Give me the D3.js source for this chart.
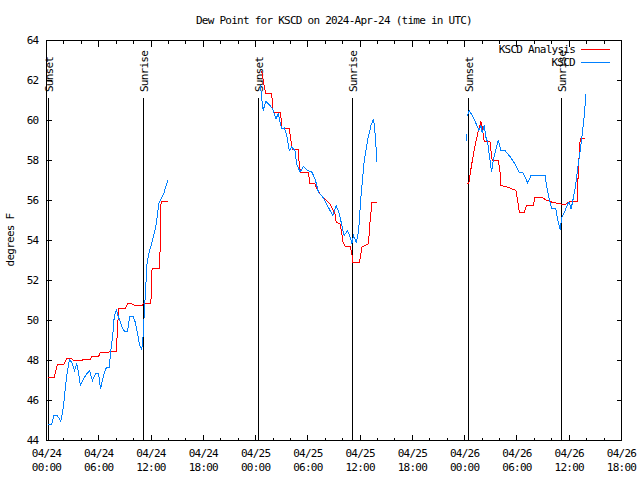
<!DOCTYPE html>
<html><head><meta charset="utf-8">
<script src="https://cdn.jsdelivr.net/npm/d3@7"></script>
<style>
body{margin:0;background:#fff}
svg{shape-rendering:crispEdges}
text{font-family:"DejaVu Sans Mono","Liberation Mono",monospace;font-size:11px;letter-spacing:-0.75px;fill:#000}
</style>
</head><body><svg id="c" width="640" height="480"></svg>
<script>
// ---------- data ----------
const title = "Dew Point for KSCD on 2024-Apr-24 (time in UTC)";
const yTitle = "degrees F";
const seriesNames = ["KSCD Analysis", "KSCD"];
const seriesColors = ["#ff0000", "#0080ff"];
// hours since 2024-04-24 00:00 UTC (null = gap)
const analysisHours = [
 0.21,0.86,1.24,1.94,2.33,2.9,3.09,4.05,4.17,5.01,5.21,5.97,6.16,7.12,7.31,8.0,8.15,8.27,9.04,9.31,9.81,10.19,10.96,11.15,11.98,12.05,12.12,12.99,13.15,13.96,
 null,
 24.69,24.95,25.18,25.84,26.02,26.88,26.99,27.87,28.03,28.21,28.9,29.02,29.18,30.05,30.25,30.83,31.02,31.4,31.78,32.55,33.13,33.24,33.7,33.9,34.02,34.28,34.86,35.05,35.17,35.93,36.2,36.96,37.08,37.36,37.93,
 null,
 48.21,48.47,48.78,49.16,49.48,49.86,50.01,50.24,50.89,51.16,51.85,52.04,52.16,52.93,53.89,54.08,54.27,54.84,55.12,55.88,56.08,56.85,57.31,58.0,58.96,59.53,59.91,60.91,61.06,61.26,61.84
];
const analysisValues = [
 47.13,47.13,47.78,47.78,48.08,48.08,48.0,48.0,48.05,48.05,48.2,48.2,48.38,48.42,48.45,48.45,49.5,50.58,50.58,50.83,50.83,50.75,50.75,50.87,50.87,51.67,52.62,52.62,55.95,55.95,
 null,
 62.47,61.83,61.33,61.33,60.42,60.42,59.58,59.58,59.08,58.55,58.55,57.75,57.42,57.42,56.83,56.83,56.58,56.33,56.17,55.83,55.33,54.92,54.83,54.33,53.92,53.7,53.7,53.33,52.92,52.92,53.67,53.83,54.67,55.92,55.92,
 null,
 56.87,56.87,57.75,58.67,59.33,59.95,59.67,58.97,58.97,58.0,58.0,57.5,56.75,56.67,56.5,56.0,55.42,55.42,55.75,55.75,56.17,56.17,56.03,55.92,55.83,55.8,55.92,55.97,57.67,59.08,59.08
];
const obsHours = [
 0.21,0.6,0.86,1.24,1.64,1.94,2.13,2.33,2.63,2.9,3.2,3.48,3.66,3.89,4.24,4.63,4.93,5.28,5.67,5.97,6.2,6.54,6.85,7.2,7.39,7.62,7.77,8.0,8.27,8.66,8.96,9.31,9.54,9.93,10.19,10.46,10.65,10.88,11.03,11.15,11.35,11.54,11.73,12.0,12.3,12.61,12.88,13.15,13.45,13.73,13.96,
 null,
 24.57,24.69,24.87,25.18,25.64,25.95,26.33,26.6,26.99,27.29,27.57,27.87,28.14,28.52,28.72,29.1,29.48,29.94,30.45,30.83,31.21,31.71,32.24,32.86,33.24,33.62,33.9,34.16,34.55,34.86,35.05,35.24,35.55,35.81,36.12,36.47,36.85,37.24,37.54,37.74,37.93,
 null,
 48.21,48.22,
 null,
 48.32,48.51,48.97,49.36,49.63,49.86,50.01,50.24,50.43,50.63,50.81,51.09,51.27,51.55,51.85,52.16,52.62,53.2,53.77,54.23,54.73,55.23,55.61,57.23,57.42,57.69,58.0,58.46,58.69,58.96,59.15,59.53,59.84,59.99,60.22,60.49,60.76,60.99,61.26,61.52,61.75,61.91
];
const obsValues = [
 44.8,44.8,45.25,45.25,44.97,45.67,46.5,47.25,48.03,47.9,47.5,47.83,47.42,46.75,47.08,47.33,47.5,47.0,47.37,47.37,46.58,47.25,47.62,47.67,48.5,49.33,50.17,50.53,50.17,49.67,49.45,49.45,50.2,50.2,49.92,49.33,48.83,48.58,48.75,49.75,51.33,52.83,53.33,53.75,54.25,54.83,55.83,56.08,56.33,56.75,57.03,
 null,
 61.75,61.17,60.5,60.97,60.75,60.58,60.08,60.33,59.58,59.63,59.25,58.5,58.67,58.5,57.83,57.42,57.7,57.5,57.42,57.08,56.42,56.17,55.75,55.25,55.75,55.33,54.75,54.25,54.5,54.17,53.83,54.25,53.92,54.42,56.33,58.0,59.0,59.75,60.08,59.25,57.92,
 null,
 59.3,58.95,
 null,
 60.25,60.5,60.17,59.8,59.5,59.75,59.37,59.75,59.17,58.92,58.33,57.42,58.0,58.5,59.03,58.5,58.5,58.2,57.83,57.42,57.37,56.87,57.25,57.25,56.67,56.08,55.58,55.58,55.0,54.53,55.17,55.5,55.83,55.92,55.58,56.17,56.83,57.67,58.5,59.42,60.33,61.33
];
const sunsetHours = [0.17, 24.31, 48.35];
const sunriseHours = [11.11, 35.10, 59.09];
const xMajorTickHours = [0,6,12,18,24,30,36,42,48,54,60,66];
const xMinorTickHours = d3.range(0, 67, 2);
const yTicks = [44,46,48,50,52,54,56,58,60,62,64];

// ---------- chart ----------
const svg = d3.select("#c");
const startMs = Date.UTC(2024, 3, 24, 0, 0);
const toDate = h => new Date(startMs + h * 3600e3);
const L = 46.5, R = 621.5, T = 40.5, B = 440.5;
const x = d3.scaleUtc().domain([toDate(0), toDate(66)]).range([L, R]);
const y = d3.scaleLinear().domain([44, 64]).range([B, T]);

// title
svg.append("text").attr("x", (L + R) / 2).attr("y", 24).attr("text-anchor", "middle").text(title);
// y title
svg.append("text").attr("transform", "translate(14,240) rotate(-90)").attr("text-anchor", "middle").text(yTitle);

// sunrise / sunset lines
const sunEvents = sunsetHours.map(h => ({h, label: "Sunset"})).concat(sunriseHours.map(h => ({h, label: "Sunrise"})));
const sg = svg.append("g");
sunEvents.forEach(e => {
  const xx = Math.round(x(toDate(e.h))) + 0.5;
  sg.append("line").attr("x1", xx).attr("x2", xx).attr("y1", 98).attr("y2", B)
    .attr("stroke", "#000").attr("stroke-width", 1);
  sg.append("text").attr("transform", `translate(${xx + 4},92) rotate(-90)`).text(e.label);
});

// axes
function clean(g){ g.select(".domain").remove(); g.selectAll(".tick line").attr("stroke", "#000"); }
svg.append("g").attr("transform", `translate(0,${B})`)
  .call(d3.axisBottom(x).tickValues(xMinorTickHours.map(toDate)).tickSize(-3).tickFormat("").offset(0)).call(clean);
svg.append("g").attr("transform", `translate(0,${T})`)
  .call(d3.axisTop(x).tickValues(xMinorTickHours.map(toDate)).tickSize(-3).tickFormat("").offset(0)).call(clean);
svg.append("g").attr("transform", `translate(0,${T})`)
  .call(d3.axisTop(x).tickValues(xMajorTickHours.map(toDate)).tickSize(-6).tickFormat("").offset(0)).call(clean);
const fmtD = d3.utcFormat("%m/%d"), fmtT = d3.utcFormat("%H:%M");
const gx = svg.append("g").attr("transform", `translate(0,${B})`)
  .call(d3.axisBottom(x).tickValues(xMajorTickHours.map(toDate)).tickSize(-6).tickPadding(9).offset(0)).call(clean);
gx.selectAll(".tick text").each(function(d){
  const t = d3.select(this).text(null);
  t.append("tspan").attr("x", 0).text(fmtD(d));
  t.append("tspan").attr("x", 0).attr("dy", 14).text(fmtT(d));
});
svg.append("g").attr("transform", `translate(${L},0)`)
  .call(d3.axisLeft(y).tickValues(yTicks).tickSize(-5).tickPadding(8).tickFormat(d3.format("d")).offset(0)).call(clean);
svg.append("g").attr("transform", `translate(${R},0)`)
  .call(d3.axisRight(y).tickValues(yTicks).tickSize(-5).tickFormat("").offset(0)).call(clean);

// border
svg.append("rect").attr("x", L).attr("y", T).attr("width", R - L).attr("height", B - T)
  .attr("fill", "none").attr("stroke", "#000").attr("stroke-width", 1);

// data lines
const lineGen = d3.line().defined(d => d[0] != null && d[1] != null).x(d => x(toDate(d[0]))).y(d => y(d[1]));
const series = [
  analysisHours.map((h, i) => [h, analysisValues[i]]),
  obsHours.map((h, i) => [h, obsValues[i]])
];
series.forEach((s, i) => {
  svg.append("path").attr("d", lineGen(s)).attr("fill", "none").style("stroke", seriesColors[i]).attr("stroke-width", 1);
});

// legend
const legY = [49, 62];
seriesNames.forEach((n, i) => {
  svg.append("text").attr("x", 575).attr("y", legY[i]).attr("dy", "0.35em").attr("text-anchor", "end").text(n);
  svg.append("rect").attr("x", 581).attr("y", legY[i]).attr("width", 29).attr("height", 1)
    .style("fill", seriesColors[i]).style("stroke", "none");
});
</script>
</body></html>
